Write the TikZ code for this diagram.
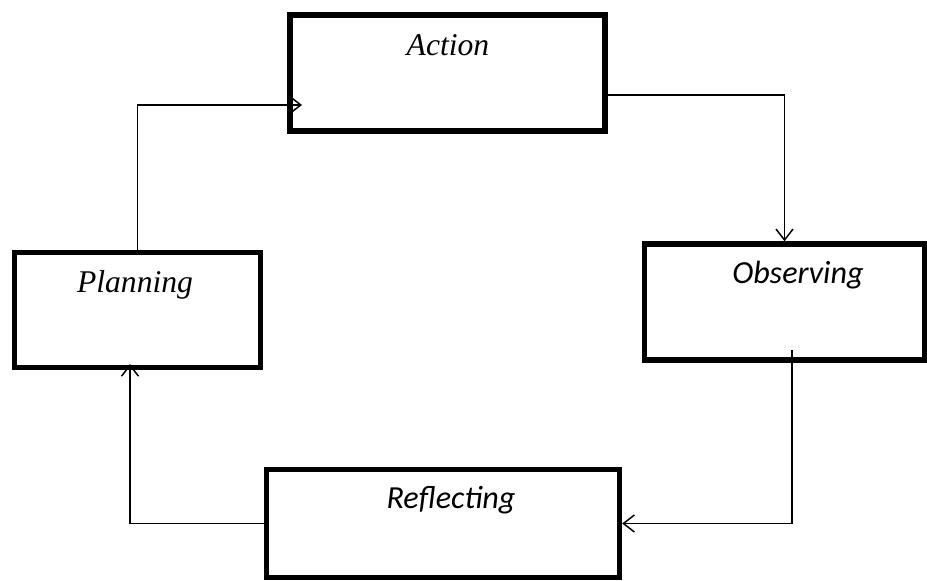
\documentclass[tikz,border=0pt]{standalone}
\usepackage{fontspec}
\setmainfont{Liberation Serif}
\newfontfamily\carlito{Carlito}
\usetikzlibrary{arrows.meta}

\begin{document}
\begin{tikzpicture}[x=0.02cm, y=-0.02cm]
			\tikzstyle{stagebox}=[draw, line width=3.1pt, inner sep=0pt];
			\tikzstyle{seriftxt}=[anchor=base, inner sep=0pt, font=\fontsize{18}{21}\selectfont\itshape];
			\tikzstyle{sanstxt}=[anchor=base, inner sep=0pt, font=\fontsize{18.3}{21}\selectfont\carlito\itshape];
			\tikzstyle{link}=[line width=0.85pt, -{Straight Barb[length=0.22cm, width=0.34cm]}];
			
			\useasboundingbox (0, 0) rectangle (927, 581);
			
			%Boxes
			\node[stagebox, minimum width=6.3cm, minimum height=2.32cm] (action) at (447.5, 73) {};
			\node[stagebox, minimum width=5.6cm, minimum height=2.32cm] (observing) at (784.5, 302) {};
			\node[stagebox, minimum width=7.06cm, minimum height=2.16cm] (reflecting) at (443, 523.5) {};
			\node[stagebox, minimum width=4.92cm, minimum height=2.3cm] (planning) at (137.5, 310) {};
			
			%Labels
			\node[seriftxt] (actiontxt) at (448, 56) {Action};
			\node[sanstxt] (observingtxt) at (798, 283) {Observing};
			\node[sanstxt] (reflectingtxt) at (451, 508) {Reflecting};
			\node[seriftxt] (planningtxt) at (135, 292) {Planning};
			
			%Cycle
			\coordinate (actionin) at (302, 105);
			\coordinate (actionout) at (605, 95);
			\coordinate (observingout) at (792, 350);
			\coordinate (planningin) at (130, 364);
			\draw[link] (planning.north) |- (actionin);
			\draw[link] (actionout) -| (observing.north);
			\draw[link] (observingout) |- (reflecting.east);
			\draw[link] (reflecting.west) -| (planningin);
\end{tikzpicture}
\end{document}
